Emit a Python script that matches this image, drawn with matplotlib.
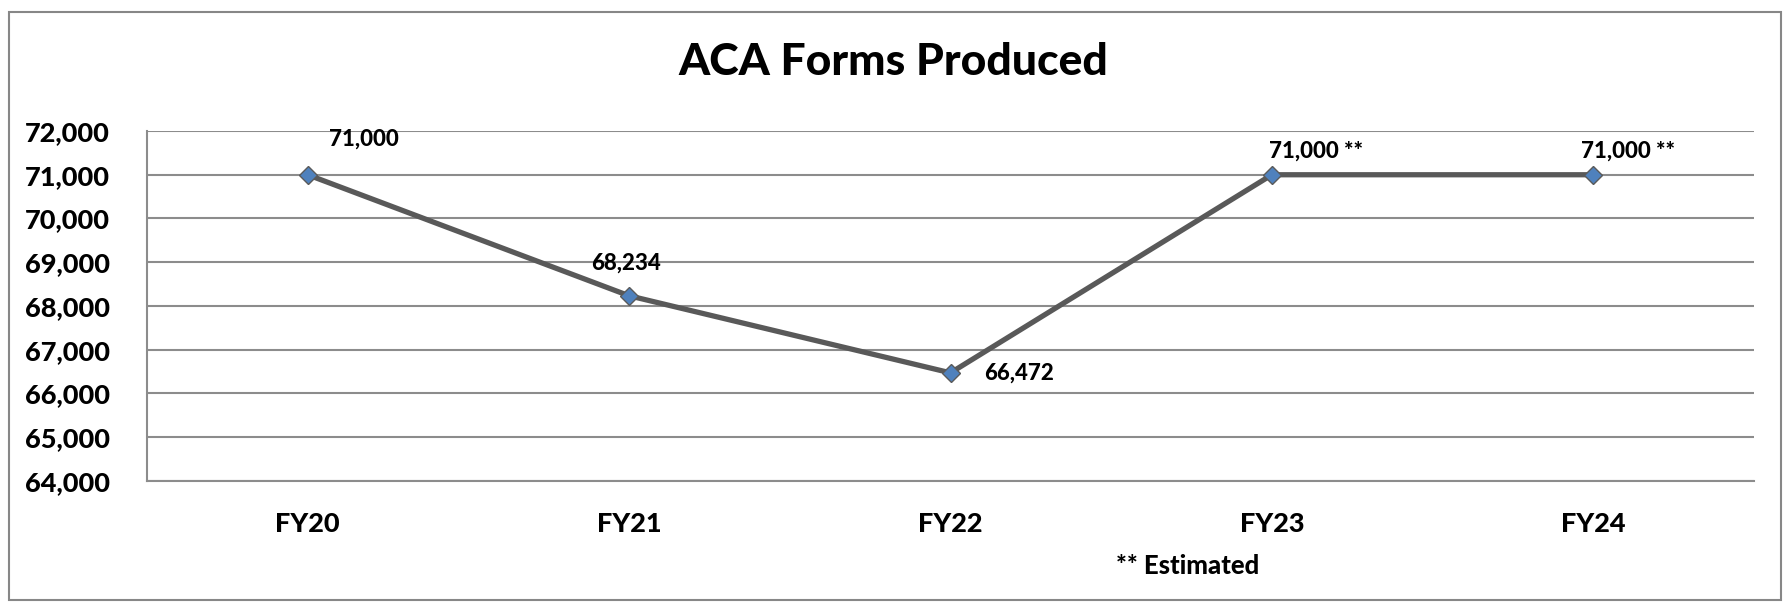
import matplotlib
matplotlib.use("Agg")
import matplotlib.pyplot as plt
from matplotlib.patches import Rectangle
from matplotlib.ticker import FuncFormatter, MultipleLocator

categories = ["FY20", "FY21", "FY22", "FY23", "FY24"]
values = [71000, 68234, 66472, 71000, 71000]
labels = ["71,000", "68,234", "66,472", "71,000 **", "71,000 **"]
title = "ACA Forms Produced"
footnote = "** Estimated"

# label offsets in pixels (dx, dy) relative to each point
label_offsets = [(56, 36), (-3, 33), (69, 0), (44, 24), (35, 24)]

FONT = "Lato"
WEIGHT = 900
plt.rcParams["font.family"] = [FONT, "DejaVu Sans"]
plt.rcParams["font.weight"] = WEIGHT

W, H, DPI = 1786, 604, 100
fig = plt.figure(figsize=(W / DPI, H / DPI), dpi=DPI)
fig.patch.set_facecolor("white")

# outer chart border
fig.patches.append(Rectangle((9 / W, 4 / H), (1781 - 9) / W, (592 - 4) / H,
                             transform=fig.transFigure, fill=False,
                             edgecolor="#878787", linewidth=1.5))

ax = fig.add_axes([147 / W, 1 - 481 / H, (1754 - 147) / W, (481 - 131) / H])
x = list(range(len(categories)))
ax.plot(x, values, color="#595959", linewidth=3.8, marker="D", markersize=9.5,
        markerfacecolor="#4f81bd", markeredgecolor="#5a5a5a", markeredgewidth=1.0,
        zorder=3, solid_joinstyle="miter")

ax.set_xlim(-0.5, len(categories) - 0.5)
ax.set_ylim(64000, 72000)
ax.yaxis.set_major_locator(MultipleLocator(1000))
ax.yaxis.set_major_formatter(FuncFormatter(lambda v, p: f"{int(v):,}"))
ax.set_xticks(x)
ax.set_xticklabels(categories)
ax.grid(axis="y", color="#8c8c8c", linewidth=1.5)
ax.set_axisbelow(True)
for s in ["top", "right"]:
    ax.spines[s].set_visible(False)
for s in ["left", "bottom"]:
    ax.spines[s].set_color("#8c8c8c")
    ax.spines[s].set_linewidth(1.5)
ax.tick_params(axis="y", length=0, pad=27, labelsize=19.5)
ax.tick_params(axis="x", length=0, pad=22, labelsize=19.5)
for t in ax.get_xticklabels() + ax.get_yticklabels():
    t.set_fontweight(WEIGHT)

for xi, v, lab, (dx, dy) in zip(x, values, labels, label_offsets):
    ax.annotate(lab, (xi, v), xytext=(dx, dy), textcoords="offset pixels",
                ha="center", va="center", fontsize=16, fontweight=WEIGHT,
                color="black")

fig.text(0.5, 1 - 62 / H, title, ha="center", va="center", fontsize=32,
         fontweight=WEIGHT)
fig.text(1188 / W, 1 - 566 / H, footnote, ha="center", va="center",
         fontsize=18.5, fontweight=WEIGHT)

fig.savefig("out.png", dpi=DPI)
